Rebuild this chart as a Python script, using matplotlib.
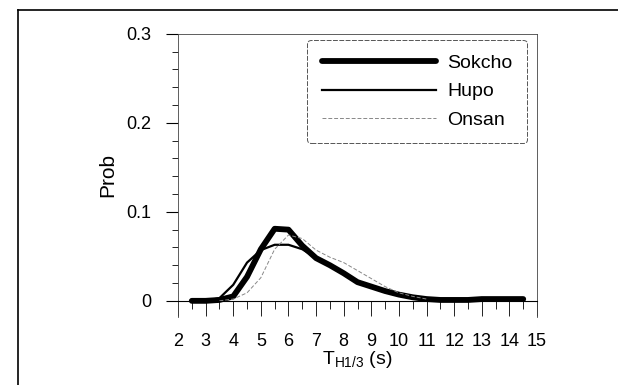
import numpy as np
import matplotlib
matplotlib.use("Agg")
import matplotlib.pyplot as plt
from matplotlib.lines import Line2D

plt.rcParams['font.family'] = ['Liberation Sans', 'DejaVu Sans']
plt.rcParams['mathtext.default'] = 'regular'

# Data
period = [2.5, 3, 3.5, 4, 4.5, 5, 5.5, 6, 6.5, 7, 7.5, 8, 8.5, 9, 9.5,
          10, 10.5, 11, 11.5, 12, 12.5, 13, 13.5, 14, 14.5]
sokcho = [0, 0, 0.001, 0.005, 0.027, 0.058, 0.081, 0.080, 0.062, 0.048, 0.040,
          0.031, 0.021, 0.016, 0.011, 0.007, 0.004, 0.002, 0.001, 0.001,
          0.001, 0.002, 0.002, 0.002, 0.002]
hupo = [0, 0, 0.003, 0.018, 0.043, 0.057, 0.063, 0.063, 0.058, 0.048, 0.040,
        0.031, 0.022, 0.016, 0.011, 0.007, 0.004, 0.002, 0.001, 0.001,
        0.001, 0.001, 0.001, 0.001, 0.001]
onsan_x = [3.5, 4, 4.5, 5, 5.5, 6, 6.5, 7, 7.5, 8, 8.5, 9, 9.5, 10, 10.5, 11]
onsan = [0, 0.002, 0.009, 0.026, 0.058, 0.074, 0.070, 0.057, 0.049, 0.043,
         0.034, 0.025, 0.016, 0.009, 0.005, 0.002]

fig = plt.figure(figsize=(6.18, 3.85), dpi=100)
ax = fig.add_axes([0.288, 0.177, 0.581, 0.735])

ax.plot(period, sokcho, color='black', lw=4.2, solid_capstyle='round', label='Sokcho')
ax.plot(period, hupo, color='black', lw=1.6, label='Hupo')
ax.plot(onsan_x, onsan, color='#888888', lw=0.7, ls=(0, (4, 2)), label='Onsan')

ax.set_xlim(2, 15)
ax.set_ylim(-0.018, 0.3)

# x axis drawn at y = 0
ax.spines['bottom'].set_position(('data', 0))
ax.spines['bottom'].set_linewidth(0.8)
for s in ['left', 'top', 'right']:
    ax.spines[s].set_linewidth(0.6)
    ax.spines[s].set_color('#444444')

ax.set_xticks(np.arange(2, 16, 1))
ax.set_xticks(np.arange(2.5, 15, 1), minor=True)
ax.set_yticks([0, 0.1, 0.2, 0.3])
ax.set_yticklabels(['0', '0.1', '0.2', '0.3'])
ax.set_yticks(np.arange(0.02, 0.3, 0.02), minor=True)

ax.tick_params(axis='x', which='major', direction='out', length=11, width=0.6,
               labelsize=13, pad=12)
ax.tick_params(axis='x', which='minor', direction='out', length=6, width=0.6)
ax.tick_params(axis='y', which='major', direction='out', length=9, width=0.8,
               labelsize=13, pad=10)
ax.tick_params(axis='y', which='minor', direction='out', length=4, width=0.6)

ax.set_ylabel('Prob', fontsize=15, labelpad=7)
ax.set_xlabel('T$_{H1/3}$ (s)', fontsize=14)
ax.xaxis.set_label_coords(0.5, -0.115)

leg = ax.legend(loc='upper right', bbox_to_anchor=(0.972, 0.979), borderaxespad=0,
                fontsize=14, handlelength=5.9, handletextpad=0.55,
                labelspacing=0.55, fancybox=True, framealpha=1,
                borderpad=0.75)
frame = leg.get_frame()
frame.set_edgecolor('#555555')
frame.set_linewidth(0.7)
frame.set_linestyle((0, (5, 1.5)))

# outer border of the figure
fig.add_artist(Line2D([18 / 618, 1], [1 - 10 / 385, 1 - 10 / 385],
                      transform=fig.transFigure, color='black', lw=1.2))
fig.add_artist(Line2D([18 / 618, 18 / 618], [0, 1 - 10 / 385],
                      transform=fig.transFigure, color='black', lw=1.2))

fig.savefig('out.png', dpi=100)
